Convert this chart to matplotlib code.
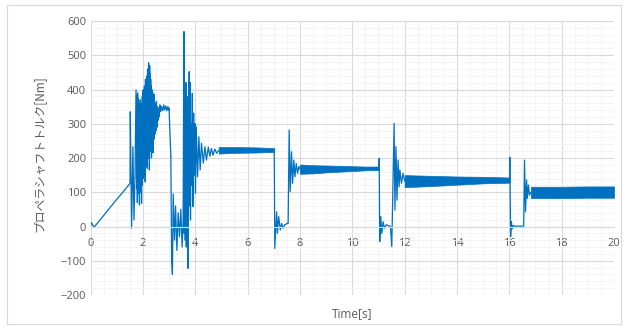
import matplotlib
matplotlib.use("Agg")
import matplotlib.pyplot as plt
from matplotlib.ticker import MultipleLocator
from matplotlib.lines import Line2D

LINE = "#0070C0"

# ---- start-up ramp and first torque burst (time [s], torque [Nm]) ----
t_ramp = [0.00, 0.03, 0.06, 0.10, 0.14, 0.16, 0.50, 1.00, 1.30, 1.51,
          1.52, 1.57, 1.62, 1.66, 1.70, 1.74]
v_ramp = [0, 12, 8, 2, -2, 0, 32, 79, 106, 126,
          335, -5, 233, 19, 150, 398]

t_burst1 = [1.75, 1.76, 1.77, 1.78, 1.79, 1.80, 1.81, 1.82, 1.83, 1.84,
            1.85, 1.86, 1.87, 1.88, 1.89, 1.90, 1.91, 1.92, 1.93, 1.94,
            1.95, 1.96, 1.97, 1.98, 1.99, 2.00, 2.01, 2.02, 2.03, 2.04,
            2.05, 2.06, 2.07, 2.08, 2.09, 2.10, 2.11, 2.12, 2.13, 2.14,
            2.15, 2.16, 2.17, 2.18, 2.19, 2.20, 2.21, 2.22, 2.23, 2.24,
            2.25, 2.26, 2.27, 2.28, 2.29, 2.30, 2.31, 2.32, 2.33, 2.34,
            2.35, 2.36, 2.37, 2.38, 2.39, 2.40, 2.41, 2.42, 2.43, 2.44,
            2.46, 2.48, 2.50, 2.52, 2.54, 2.56, 2.58, 2.60, 2.62, 2.65,
            2.68, 2.72, 2.76, 2.80, 2.84, 2.88, 2.92, 2.96, 3.00, 3.00,
            3.07]
v_burst1 = [140, 385, 110, 370, 70, 390, 160, 375, 120, 360,
            95, 350, 63, 330, 130, 370, 100, 345, 150, 340,
            68, 360, 120, 380, 160, 395, 140, 400, 180, 390,
            150, 410, 190, 405, 130, 430, 210, 415, 175, 420,
            230, 440, 170, 460, 240, 455, 200, 478, 250, 440,
            165, 470, 230, 445, 220, 430, 250, 410, 200, 400,
            260, 395, 230, 390, 215, 375, 265, 370, 255, 385,
            270, 360, 280, 365, 290, 350, 310, 345, 320, 355,
            335, 350, 338, 355, 340, 352, 338, 350, 340, 345,
            204]

# ---- second burst and its decay ----
t_burst2 = [3.07, 3.10, 3.13, 3.16, 3.21, 3.25, 3.30, 3.35, 3.40, 3.45,
            3.50, 3.54, 3.57, 3.58, 3.59, 3.60, 3.61, 3.62, 3.63, 3.64,
            3.65, 3.66, 3.67, 3.68, 3.69, 3.70, 3.71, 3.72, 3.73, 3.74,
            3.75, 3.76, 3.77, 3.78, 3.79, 3.80, 3.81, 3.82, 3.84, 3.86,
            3.89, 3.91, 3.94, 3.96, 3.99, 4.01, 4.04, 4.09, 4.14, 4.19,
            4.24, 4.31, 4.37, 4.43, 4.50, 4.56, 4.62, 4.68, 4.75, 4.82,
            4.90]
v_burst2 = [204, -100, -140, 95, -40, 60, -70, 40, -30, 50,
            -60, 20, 569, -20, 330, 10, 380, -40, 300, 60,
            420, -60, 250, 20, 350, -10, 200, -122, 380, 40,
            420, 80, 452, 60, 400, 100, 420, 19, 300, 120,
            389, 58, 331, 150, 300, 97, 291, 145, 262, 165,
            243, 185, 233, 194, 232, 205, 228, 208, 226, 214,
            222]

# ---- load steps ----
t_step1 = [7.02, 7.04, 7.11, 7.14, 7.19, 7.25, 7.30, 7.36, 7.42, 7.52,
           7.55, 7.59, 7.63, 7.68, 7.72, 7.77, 7.81, 7.86, 7.91, 7.96,
           8.01]
v_step1 = [222, -64, 43, -20, 29, -10, 9, -5, 5, 9,
           9, 282, 102, 218, 126, 194, 145, 184, 155, 175,
           167]

t_step2 = [11.02, 11.03, 11.05, 11.09, 11.13, 11.18, 11.23, 11.30, 11.46, 11.51,
           11.60, 11.63, 11.67, 11.71, 11.75, 11.79, 11.82, 11.88, 11.94, 12.00]
v_step2 = [170, 199, -44, 29, -20, 14, -5, 5, 0, -59,
           301, 48, 233, 77, 194, 116, 165, 126, 155, 133]

t_step3 = [16.01, 16.02, 16.05, 16.08, 16.11, 16.15, 16.20, 16.40, 16.55, 16.58,
           16.62, 16.66, 16.69, 16.73, 16.77, 16.83]
v_step3 = [135, 202, -30, 14, -7, 3, 1, 1, 1, 194,
           43, 136, 82, 121, 92, 100]

# ---- steady oscillation bands (upper / lower envelope) ----
band1_t = [4.90, 5.50, 6.30, 7.02]
band1_hi = [232, 232, 231, 229]
band1_lo = [213, 215, 216, 218]

band2_t = [8.00, 8.50, 9.00, 9.50, 10.00, 10.50, 11.02]
band2_hi = [181, 179, 178, 177, 176, 175, 175]
band2_lo = [154, 155, 158, 160, 162, 164, 165]

band3_t = [12.00, 13.00, 14.00, 15.00, 16.01]
band3_hi = [150, 148, 146, 145, 143]
band3_lo = [115, 118, 122, 126, 128]

band4_t = [16.83, 18.00, 19.00, 20.00]
band4_hi = [116, 116, 117, 117]
band4_lo = [83, 83, 84, 84]

x_ticks = [0, 2, 4, 6, 8, 10, 12, 14, 16, 18, 20]
y_ticks = [-200, -100, 0, 100, 200, 300, 400, 500, 600]

plt.rcParams["font.family"] = ["Open Sans", "Noto Sans CJK JP", "DejaVu Sans"]

fig = plt.figure(figsize=(6.25, 3.29), dpi=100)
ax = fig.add_axes([90.5 / 625, 1 - 295 / 329, (614 - 90.5) / 625, (295 - 21) / 329])

for t, v in [(t_ramp, v_ramp), (t_burst1, v_burst1), (t_burst2, v_burst2),
             (t_step1, v_step1), (t_step2, v_step2), (t_step3, v_step3)]:
    ax.plot(t, v, color=LINE, lw=0.9)

for bt, hi, lo in [(band1_t, band1_hi, band1_lo), (band2_t, band2_hi, band2_lo),
                   (band3_t, band3_hi, band3_lo), (band4_t, band4_hi, band4_lo)]:
    ax.fill_between(bt, lo, hi, color=LINE, lw=0.5, edgecolor=LINE)

ax.set_xlim(0, 20)
ax.set_ylim(-200, 600)
ax.set_xticks(x_ticks)
ax.set_yticks(y_ticks)
ax.xaxis.set_minor_locator(MultipleLocator(0.5))
ax.yaxis.set_minor_locator(MultipleLocator(20))
ax.grid(which="major", color="#D9D9D9", lw=0.8)
ax.grid(which="minor", color="#F2F2F2", lw=0.6)
ax.set_axisbelow(True)

for side in ["top", "right", "left"]:
    ax.spines[side].set_visible(False)
ax.spines["bottom"].set_position(("data", 0))
ax.spines["bottom"].set_color("#D9D9D9")
ax.spines["bottom"].set_linewidth(0.8)
ax.tick_params(which="both", length=0)
ax.tick_params(axis="x", labelsize=8, labelcolor="#595959", pad=8)
ax.tick_params(axis="y", labelsize=8, labelcolor="#595959", pad=3)

fig.text(39 / 625, 1 - 154 / 329, "プロペラシャフトトルク[Nm]", rotation=90,
         ha="center", va="center", fontsize=8.5, color="#595959",
         family=["Noto Sans CJK JP", "DejaVu Sans"])
fig.text(352 / 625, 1 - 314 / 329, "Time[s]", ha="center", va="center",
         fontsize=8.5, color="#595959")

# chart frame
for xs, ys in [([7, 621], [324, 324]), ([7, 7], [5, 324]), ([621, 621], [5, 324]),
               ([7, 621], [5, 5])]:
    fig.add_artist(Line2D([x / 625 for x in xs], [1 - y / 329 for y in ys],
                          color="#D9D9D9", lw=0.8))

fig.savefig("out.png", dpi=100)
